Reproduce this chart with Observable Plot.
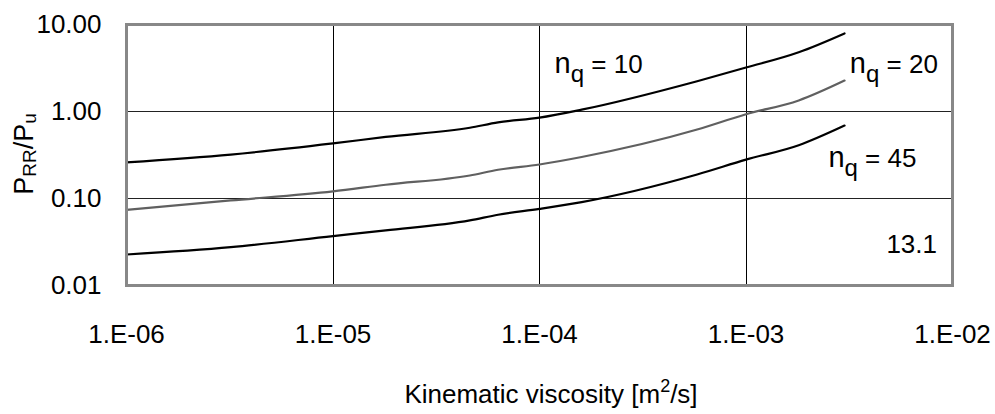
<!DOCTYPE html>
<html><head><meta charset="utf-8">
<script src="https://cdn.jsdelivr.net/npm/d3@7"></script>
<script src="https://cdn.jsdelivr.net/npm/@observablehq/plot@0.6"></script>
<style>html,body{margin:0;padding:0;background:#fff}#chart svg{display:block}</style>
</head><body><div id="chart"></div>
<script>
// Kinematic viscosity [m²/s]
const viscosity = [1e-6, 3.2e-6, 1e-5, 1.8e-5, 4.6e-5, 6.3e-5, 1e-4, 1.6e-4, 5.8e-4, 1e-3, 1.8e-3, 3e-3];
// P_RR/P_u for each specific speed
const nq10 = [0.26, 0.32, 0.43, 0.51, 0.65, 0.75, 0.85, 1.05, 2.23, 3.2, 4.8, 7.9];
const nq20 = [0.074, 0.095, 0.121, 0.144, 0.184, 0.214, 0.246, 0.30, 0.62, 0.93, 1.34, 2.27];
const nq45 = [0.0227, 0.0276, 0.037, 0.043, 0.056, 0.065, 0.076, 0.091, 0.189, 0.28, 0.41, 0.69];
const seriesNames = ["10", "20", "45"];
const seriesValues = [nq10, nq20, nq45];

const xTicks = [1e-6, 1e-5, 1e-4, 1e-3, 1e-2];
const xTickLabels = ["1.E-06", "1.E-05", "1.E-04", "1.E-03", "1.E-02"];
const yTicks = [0.01, 0.1, 1, 10];
const yTickLabels = ["0.01", "0.10", "1.00", "10.00"];
const xGrid = [1e-5, 1e-4, 1e-3];
const yGrid = [0.1, 1];

// annotation anchors (data coordinates)
const curveLabels = [
  {name: "10", x: 1.19e-4, y: 2.75},
  {name: "20", x: 3.2e-3, y: 2.75},
  {name: "45", x: 2.52e-3, y: 0.228}
];

const rows = [];
seriesNames.forEach((s, i) => viscosity.forEach((v, j) => rows.push({series: s, x: v, y: seriesValues[i][j]})));
const colorOf = {"10": "#000", "20": "#606060", "45": "#000"};

const font = "'Liberation Sans', Arial, sans-serif";
const plot = Plot.plot({
  width: 995, height: 414,
  marginLeft: 126, marginRight: 43, marginTop: 24, marginBottom: 129,
  style: {fontFamily: font, background: "#fff", color: "#000"},
  x: {type: "log", domain: [1e-6, 1e-2]},
  y: {type: "log", domain: [0.01, 10]},
  marks: [
    Plot.ruleX(xGrid, {stroke: "#000", strokeWidth: 1, shapeRendering: "crispEdges"}),
    Plot.ruleY(yGrid, {stroke: "#222", strokeWidth: 1, shapeRendering: "crispEdges"}),
    ...seriesNames.map(s => Plot.line(rows.filter(r => r.series === s), {x: "x", y: "y", stroke: colorOf[s], strokeWidth: 2.2, curve: "monotone-x"})),
    Plot.frame({stroke: "#888", strokeWidth: 3}),
    Plot.axisX({ticks: xTicks, tickFormat: d => xTickLabels[xTicks.indexOf(d)], tickSize: 0, tickPadding: 39, fontSize: 26, label: null, fill: "#000"}),
    Plot.axisY({ticks: yTicks, tickFormat: d => yTickLabels[yTicks.indexOf(d)], tickSize: 0, tickPadding: 25, fontSize: 26, label: null, fill: "#000"})
  ]
});
document.getElementById("chart").appendChild(plot);

const svg = d3.select(plot);
const sx = plot.scale("x"), sy = plot.scale("y");

// curve labels
curveLabels.forEach(l => {
  const t = svg.append("text")
    .attr("x", sx.apply(l.x)).attr("y", sy.apply(l.y)).attr("text-anchor", "start")
    .attr("font-family", font).attr("font-size", 26).attr("fill", "#000");
  t.append("tspan").attr("font-size", 29).text("n");
  t.append("tspan").attr("font-size", 24).attr("dy", 9).text("q");
  t.append("tspan").attr("dy", -9).text(" = " + l.name);
});

// figure number
svg.append("text").attr("x", 937).attr("y", 253).attr("text-anchor", "end")
  .attr("font-family", font).attr("font-size", 26).attr("fill", "#000").text("13.1");

// x axis title
const xt = svg.append("text").attr("x", 551).attr("y", 403).attr("text-anchor", "middle")
  .attr("font-family", font).attr("font-size", 26).attr("fill", "#000");
xt.append("tspan").text("Kinematic viscosity [m");
xt.append("tspan").attr("font-size", 18).attr("dy", -11).text("2");
xt.append("tspan").attr("dy", 11).text("/s]");

// y axis title
const yt = svg.append("text").attr("transform", "translate(33,154) rotate(-90)").attr("text-anchor", "middle")
  .attr("font-family", font).attr("font-size", 27).attr("fill", "#000");
yt.append("tspan").text("P");
yt.append("tspan").attr("font-size", 19).attr("dy", 3).text("RR");
yt.append("tspan").attr("dy", -3).text("/P");
yt.append("tspan").attr("font-size", 19).attr("dy", 3).text("u");
</script>
</body></html>
